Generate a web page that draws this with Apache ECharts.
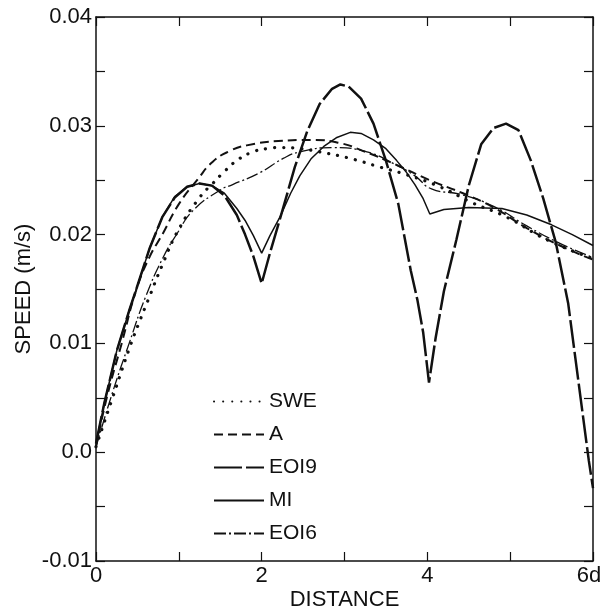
<!DOCTYPE html>
<html>
<head>
    <meta charset="utf-8">
    <title>Speed vs distance</title>
    <script src="https://cdn.jsdelivr.net/npm/echarts@6/dist/echarts.min.js"></script>
</head>
<body style="margin:0;background:#fff">
    <div id="main" style="width: 602px;height:610px;"></div>
    <script type="text/javascript">
    // [distance, speed] pairs
    var SWE = [[0,0.0005],[0.2,0.005],[0.41,0.0097],[0.53,0.0121],[0.63,0.014],[0.8,0.0172],[1.0,0.0205],
        [1.26,0.0235],[1.41,0.0247],[1.55,0.0258],[1.7,0.0268],[1.86,0.0275],[2.06,0.0279],[2.26,0.028],
        [2.46,0.0279],[2.7,0.0276],[3.07,0.027],[3.43,0.0262],[3.75,0.0255],[4.15,0.0244],[4.55,0.0229],
        [4.96,0.0216],[5.45,0.0195],[6.0,0.0178]];
    var A = [[0,0.0005],[0.13,0.005],[0.31,0.01],[0.49,0.015],[0.65,0.018],[0.8,0.02],[1.0,0.0228],
        [1.22,0.025],[1.41,0.0267],[1.62,0.0277],[1.82,0.0282],[2.2,0.0286],[2.6,0.0287],[2.95,0.0284],
        [3.22,0.0277],[3.63,0.0264],[4.03,0.025],[4.43,0.0238],[4.8,0.0225],[5.2,0.0206],[5.6,0.019],[6.0,0.0177]];
    var EOI9 = [[0,0.0008],[0.1,0.0045],[0.25,0.0093],[0.4,0.013],[0.5,0.0153],[0.65,0.0188],[0.8,0.0216],
        [0.95,0.0234],[1.1,0.0244],[1.25,0.0247],[1.4,0.0245],[1.55,0.0236],[1.7,0.0218],[1.8,0.02],
        [1.9,0.018],[2.0,0.0155],
        [2.1,0.0183],[2.25,0.0222],[2.4,0.0262],[2.55,0.0295],[2.7,0.032],[2.85,0.0334],[2.95,0.0338],
        [3.05,0.0336],[3.2,0.0325],[3.35,0.0302],[3.5,0.0268],[3.65,0.0228],[3.8,0.0167],[3.88,0.014],
        [3.95,0.011],[4.02,0.0064],
        [4.1,0.0105],[4.2,0.0148],[4.35,0.0195],[4.5,0.0245],[4.65,0.0283],[4.8,0.0298],[4.95,0.0302],
        [5.1,0.0296],[5.25,0.0268],[5.4,0.0233],[5.55,0.0193],[5.7,0.0137],[5.85,0.005],[5.95,-0.0008],[6.0,-0.0033]];
    var MI = [[0,0.0008],[0.1,0.0045],[0.25,0.0093],[0.4,0.013],[0.5,0.0153],[0.65,0.0188],[0.8,0.0216],
        [0.95,0.0235],[1.1,0.0244],[1.25,0.0247],[1.4,0.0245],[1.55,0.0238],[1.7,0.0224],[1.8,0.0213],
        [1.9,0.0199],[2.0,0.0183],
        [2.1,0.0199],[2.22,0.0216],[2.35,0.0238],[2.46,0.0254],[2.6,0.027],[2.75,0.0281],[2.9,0.0289],
        [3.07,0.0294],[3.2,0.0293],[3.35,0.0287],[3.5,0.0279],[3.63,0.0268],[3.75,0.0257],[3.85,0.0246],
        [3.95,0.0233],[4.03,0.0219],
        [4.2,0.0223],[4.5,0.0225],[4.9,0.0224],[5.2,0.0218],[5.5,0.0209],[5.75,0.02],[6.0,0.019]];
    var EOI6 = [[0,0.0005],[0.2,0.0055],[0.4,0.01],[0.6,0.0143],[0.81,0.0179],[0.98,0.0201],[1.17,0.0222],
        [1.5,0.0241],[1.65,0.0246],[1.98,0.0257],[2.26,0.027],[2.46,0.0276],[2.86,0.028],[3.27,0.0276],
        [3.6,0.0265],[3.85,0.0254],[4.05,0.0242],[4.4,0.0237],[4.8,0.0226],[5.2,0.0208],[5.6,0.0192],[6.0,0.0179]];

    var names = ['SWE', 'A', 'EOI9', 'MI', 'EOI6'];
    var ink = '#111';
    var font = 'Liberation Sans, Arial, sans-serif';

    myChart = echarts.init(document.getElementById('main'));

    function line(name, data, style, smooth) {
        return {
            name: name,
            type: 'line',
            data: data,
            smooth: smooth,
            symbol: 'none',
            showSymbol: false,
            animation: false,
            lineStyle: Object.assign({ color: ink }, style),
            itemStyle: { color: ink }
        };
    }

    var axisLine = { show: true, onZero: false, lineStyle: { color: ink, width: 1.5 } };
    var tick = { inside: true, length: 9, lineStyle: { color: ink, width: 1.2 } };

    option = {
        backgroundColor: '#fff',
        animation: false,
        grid: { left: 96, right: 9, top: 17, bottom: 49, containLabel: false, outerBoundsMode: 'none' },
        legend: {
            data: names,
            orient: 'vertical',
            left: 208,
            top: 386,
            itemWidth: 50,
            itemHeight: 20,
            itemGap: 12,
            itemStyle: { opacity: 0 },
            textStyle: { fontSize: 21, color: ink, fontFamily: font }
        },
        xAxis: [{
            type: 'value',
            min: 0, max: 6, interval: 1,
            name: 'DISTANCE',
            nameLocation: 'middle',
            nameGap: 28,
            nameMoveOverlap: false,
            nameTextStyle: { fontSize: 22, color: ink, fontFamily: font },
            axisLine: axisLine,
            axisTick: tick,
            axisLabel: {
                fontSize: 22, color: ink, fontFamily: font, margin: 4,
                formatter: function (v) {
                    if (v % 2 !== 0) return '';
                    return v === 6 ? '{d|6d}' : String(v);
                },
                rich: { d: { fontSize: 22, color: ink, fontFamily: font, padding: [0, 8, 0, 0] } }
            },
            splitLine: { show: false }
        }, {
            type: 'value', position: 'top',
            min: 0, max: 6, interval: 1,
            axisLine: axisLine,
            axisTick: tick,
            axisLabel: { show: false },
            splitLine: { show: false }
        }],
        yAxis: [{
            type: 'value',
            min: -0.01, max: 0.04, interval: 0.005,
            name: 'SPEED (m/s)',
            nameLocation: 'middle',
            nameGap: 61,
            nameMoveOverlap: false,
            nameTextStyle: { fontSize: 22, color: ink, fontFamily: font },
            axisLine: axisLine,
            axisTick: tick,
            axisLabel: {
                fontSize: 22, color: ink, fontFamily: font, margin: 4,
                formatter: function (v) {
                    var k = Math.round(v * 1000);
                    if (k % 10 !== 0) return '';
                    if (k === 0) return '0.0';
                    return (k / 1000).toFixed(2);
                }
            },
            splitLine: { show: false }
        }, {
            type: 'value', position: 'right',
            min: -0.01, max: 0.04, interval: 0.005,
            axisLine: axisLine,
            axisTick: tick,
            axisLabel: { show: false },
            splitLine: { show: false }
        }],
        series: [
            line('SWE', SWE, { width: 3.2, type: [0.1, 9], cap: 'round' }, true),
            line('A', A, { width: 2, type: [9, 5] }, true),
            line('EOI9', EOI9, { width: 2.5, type: [28, 4] }, false),
            line('MI', MI, { width: 1.5, type: 'solid' }, false),
            line('EOI6', EOI6, { width: 1.3, type: [12, 3, 2, 3] }, true)
        ]
    };

    myChart.setOption(option);
    </script>
</body>
</html>
